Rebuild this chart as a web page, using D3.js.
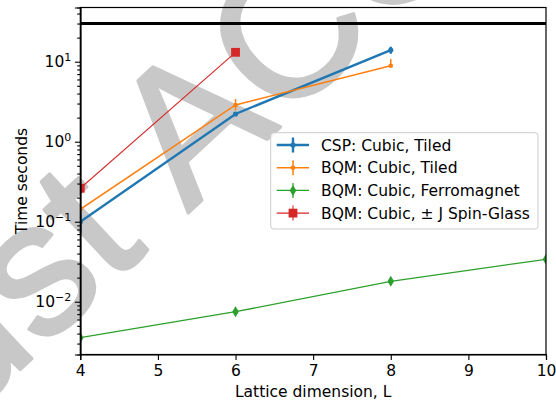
<!DOCTYPE html>
<html>
<head>
<meta charset="utf-8">
<script src="https://cdn.jsdelivr.net/npm/d3@7"></script>
<style>
  body { margin: 0; background: #fff; }
  svg { display: block; }
  text { font-family: "DejaVu Sans", sans-serif; }
</style>
</head>
<body>
<div id="chart"></div>
<script>
// values
const xTicks = [4, 5, 6, 7, 8, 9, 10];
const yTicks = [0.01, 0.1, 1, 10];
const yTickExp = ["\u22122", "\u22121", "0", "1"];
const threshold = 30;

const cspL = [4, 6, 8];
const cspTime = [0.1, 2.22, 14.0];
const cspErr = [0.028, 0.1, 1.4];

const tiledL = [4, 6, 8];
const tiledTime = [0.143, 2.88, 8.9];
const tiledErrLo = [0.01, 0.4, 0.3];
const tiledErrHi = [0.01, 0.55, 1.9];

const ferroL = [4, 6, 8, 10];
const ferroTime = [0.00355, 0.0075, 0.018, 0.0339];
const ferroErr = [0.0002, 0.0004, 0.0008, 0.0015];

const glassL = [4, 6];
const glassTime = [0.262, 13.1];

const legendNames = ["CSP: Cubic, Tiled", "BQM: Cubic, Tiled",
  "BQM: Cubic, Ferromagnet", "BQM: Cubic, \u00b1 J Spin-Glass"];

const W = 556, H = 403;
const margin = {top: 7.5, right: 10, bottom: 48.5, left: 80.3};
const width = W - margin.left - margin.right,
      height = H - margin.top - margin.bottom;

const svg = d3.select("#chart").append("svg")
    .attr("width", W).attr("height", H);

// watermark behind everything
const wm = svg.append("g")
    .attr("transform", "translate(188,213) rotate(-43)")
    .attr("fill", "#c8c8c8")
    .attr("stroke", "#c8c8c8")
    .attr("stroke-width", 3.5)
    .attr("stroke-linejoin", "round");
wm.append("text").attr("x", 0)
    .style("font-family", "Liberation Sans").style("font-size", "190px")
    .text("ACCEPTED");
wm.append("text").attr("x", -53).attr("text-anchor", "end")
    .style("font-family", "Liberation Sans").style("font-size", "190px")
    .text("Just");

const g = svg.append("g")
    .attr("transform", `translate(${margin.left},${margin.top})`);

const x = d3.scaleLinear().domain([4, 10]).range([0, width]);
const y = d3.scaleLog().domain([0.00219, 47.6]).range([height, 0]);

g.append("clipPath").attr("id", "clip")
  .append("rect").attr("width", width).attr("height", height);

const plot = g.append("g").attr("clip-path", "url(#clip)");

const series = [
  {L: cspL, t: cspTime, lo: cspErr, hi: cspErr, color: "#1f77b4", lw: 2.4, marker: "dot", size: 2.6},
  {L: tiledL, t: tiledTime, lo: tiledErrLo, hi: tiledErrHi, color: "#ff7f0e", lw: 1.5, marker: "dot", size: 2.3},
  {L: ferroL, t: ferroTime, lo: ferroErr, hi: ferroErr, color: "#2ca02c", lw: 1.3, marker: "diamond", size: 5.5},
  {L: glassL, t: glassTime, lo: [0, 0], hi: [0, 0], color: "#d62728", lw: 1.1, marker: "square", size: 4.4}
];

// threshold line
plot.append("line")
    .attr("x1", 0).attr("x2", width)
    .attr("y1", y(threshold)).attr("y2", y(threshold))
    .attr("stroke", "#000").attr("stroke-width", 3);

function drawMarker(sel, s, cx, cy) {
  if (s.marker === "dot") {
    sel.append("circle").attr("cx", cx).attr("cy", cy).attr("r", s.size).attr("fill", s.color);
  } else if (s.marker === "diamond") {
    const w = s.size * 0.6, h = s.size;
    sel.append("path")
      .attr("d", `M${cx},${cy - h}L${cx + w},${cy}L${cx},${cy + h}L${cx - w},${cy}Z`)
      .attr("fill", s.color);
  } else {
    sel.append("rect")
      .attr("x", cx - s.size).attr("y", cy - s.size)
      .attr("width", 2 * s.size).attr("height", 2 * s.size)
      .attr("fill", s.color);
  }
}

series.forEach(s => {
  const pts = s.L.map((l, i) => ({l, t: s.t[i], lo: s.lo[i], hi: s.hi[i]}));
  plot.append("path")
    .datum(pts)
    .attr("fill", "none")
    .attr("stroke", s.color)
    .attr("stroke-width", s.lw)
    .attr("d", d3.line().x(d => x(d.l)).y(d => y(d.t)));
  plot.selectAll(null).data(pts.filter(d => d.lo > 0 || d.hi > 0)).enter()
    .append("line")
    .attr("x1", d => x(d.l)).attr("x2", d => x(d.l))
    .attr("y1", d => y(d.t - d.lo)).attr("y2", d => y(d.t + d.hi))
    .attr("stroke", s.color).attr("stroke-width", s.lw);
  pts.forEach(d => drawMarker(plot, s, x(d.l), y(d.t)));
});

// axes
const fs = "15.5px";
const xAxis = g.append("g")
    .attr("transform", `translate(0,${height})`)
    .call(d3.axisBottom(x).tickValues(xTicks).tickSize(5.4).tickPadding(5).tickFormat(d3.format("d")));
xAxis.selectAll("text").style("font-size", fs).style("font-family", "DejaVu Sans").attr("fill", "#000");

const minor = [];
for (let e = -3; e <= 1; e++) for (let m = 2; m <= 9; m++) {
  const v = m * Math.pow(10, e);
  if (v >= 0.00219 && v <= 47.6) minor.push(v);
}
g.append("g").call(d3.axisLeft(y).tickValues(minor).tickSize(3.1).tickFormat(""));
const yAxis = g.append("g")
    .call(d3.axisLeft(y).tickValues(yTicks).tickSize(5.4).tickFormat(""));
yTicks.forEach((v, i) => {
  const t = g.append("text")
    .attr("x", -9).attr("y", y(v) + 5.6)
    .attr("text-anchor", "end")
    .style("font-size", fs);
  t.append("tspan").text("10");
  t.append("tspan").attr("dy", -6.5).style("font-size", "11px").text(yTickExp[i]);
});

g.selectAll(".domain").attr("stroke", "#000").attr("stroke-width", 1.2);
g.selectAll(".tick line").attr("stroke", "#000").attr("stroke-width", 1.1);

// remaining spines
g.append("rect").attr("width", width).attr("height", height)
  .attr("fill", "none").attr("stroke", "#000").attr("stroke-width", 1.2);

// axis labels
svg.append("text")
    .attr("x", margin.left + width / 2).attr("y", 396.5)
    .attr("text-anchor", "middle").style("font-size", fs)
    .text("Lattice dimension, L");
svg.append("text")
    .attr("transform", `translate(26.5,${margin.top + height / 2}) rotate(-90)`)
    .attr("text-anchor", "middle").style("font-size", fs)
    .text("Time seconds");

// legend
const leg = svg.append("g").attr("transform", "translate(270.7,132.7)");
leg.append("rect")
    .attr("width", 267.3).attr("height", 96.3).attr("rx", 3)
    .attr("fill", "#fff").attr("fill-opacity", 0.8)
    .attr("stroke", "#cccccc").attr("stroke-width", 1);
series.forEach((s, i) => {
  const cy = 12.3 + i * 22.7;
  const row = leg.append("g");
  row.append("line").attr("x1", 6).attr("x2", 38.3).attr("y1", cy).attr("y2", cy)
    .attr("stroke", s.color).attr("stroke-width", s.lw);
  row.append("line").attr("x1", 22.3).attr("x2", 22.3).attr("y1", cy - 7.5).attr("y2", cy + 7.5)
    .attr("stroke", s.color).attr("stroke-width", s.lw);
  drawMarker(row, s, 22.3, cy);
  row.append("text").attr("x", 50.3).attr("y", cy + 5.6)
    .style("font-size", fs).text(legendNames[i]);
});
</script>
</body>
</html>
